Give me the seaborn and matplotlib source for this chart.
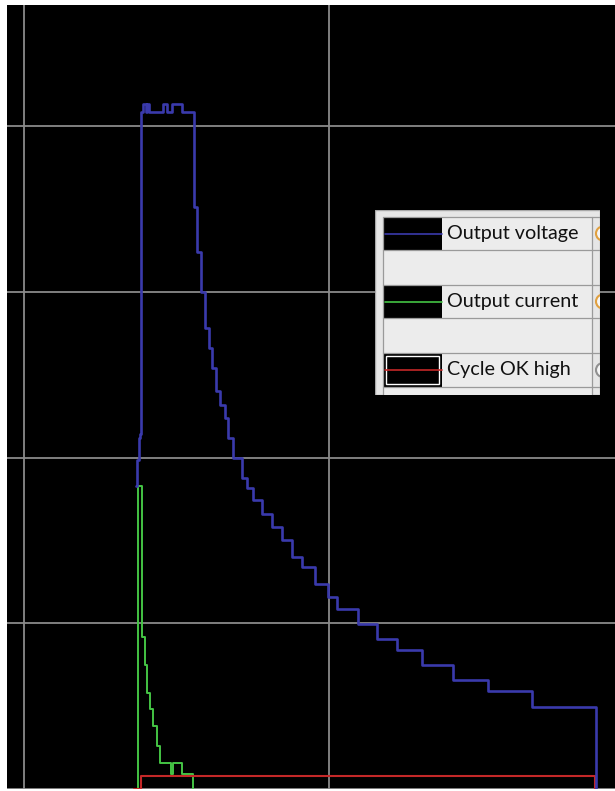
import matplotlib
matplotlib.use("Agg")
import matplotlib.pyplot as plt
import seaborn as sns
from matplotlib.patches import Rectangle, Circle

# Scope trace (time in ms, 10 ms / div; 10 units / div vertically)
volt_t = [3.67, 3.70, 3.77, 3.80, 3.84, 3.90, 4.00, 4.03, 4.10, 4.56, 4.69, 4.85, 5.18,
          5.57, 5.67, 5.80, 5.93, 6.07, 6.16, 6.30, 6.43, 6.59, 6.69, 6.85, 7.15, 7.31,
          7.51, 7.80, 8.13, 8.46, 8.79, 9.11, 9.54, 9.97, 10.26, 10.95, 11.57, 12.23,
          13.05, 14.07, 15.21, 16.66, 18.75]
volt_v = [18.32, 19.88, 21.20, 21.44, 40.90, 41.35, 40.90, 41.35, 40.90, 41.35, 40.90,
          41.35, 40.90, 35.14, 32.43, 30.03, 27.81, 26.61, 25.41, 24.02, 23.18, 22.40,
          21.20, 20.00, 18.80, 18.20, 17.42, 16.58, 15.80, 15.02, 13.99, 13.39, 12.37,
          11.59, 10.87, 9.97, 9.07, 8.41, 7.51, 6.61, 5.89, 4.98, 0.0]

curr_t = [3.60, 3.74, 3.87, 3.97, 4.03, 4.13, 4.23, 4.36, 4.46, 4.82, 4.89, 5.18, 5.54]
curr_v = [0.0, 18.32, 9.19, 7.51, 5.77, 4.80, 3.78, 2.58, 1.56, 0.90, 1.56, 0.90, 0.0]

ok_t = [3.60, 3.84, 18.72]
ok_v = [0.0, 0.80, 0.0]

labels = ["Output voltage", "Output current", "Cycle OK high"]
colors = ["#3a3aac", "#44c444", "#c42828"]

sns.set_style("dark", {"axes.facecolor": "black", "grid.color": "#8a8a8a"})
plt.rcParams["font.family"] = ["Lato", "DejaVu Sans"]

W, H = 615, 791
fig = plt.figure(figsize=(W / 100, H / 100), dpi=100, facecolor="white")
ax = fig.add_axes([7 / W, 2 / H, (W - 7) / W, 784 / H])

# Draw traces
sns.lineplot(x=curr_t, y=curr_v, ax=ax, color=colors[1], linewidth=1.4,
             drawstyle="steps-post", sort=False, estimator=None)
sns.lineplot(x=ok_t, y=ok_v, ax=ax, color=colors[2], linewidth=1.5,
             drawstyle="steps-post", sort=False, estimator=None)
sns.lineplot(x=volt_t, y=volt_v, ax=ax, color=colors[0], linewidth=1.9,
             drawstyle="steps-post", sort=False, estimator=None)

ax.set_xlim(-0.557, 19.377)
ax.set_ylim(0.24, 47.33)
ax.set_xticks([0, 10])
ax.set_yticks([0, 10, 20, 30, 40])
ax.grid(True, color="#8a8a8a", linewidth=1.3)
ax.tick_params(length=0, labelbottom=False, labelleft=False)
ax.set_xlabel("")
ax.set_ylabel("")
for s in ax.spines.values():
    s.set_visible(False)

# Legend panel, drawn in pixel coordinates of its own axes
lg = fig.add_axes([375 / W, (H - 395) / H, 225 / W, 185 / H])
lg.set_xlim(375, 600)
lg.set_ylim(395, 210)
lg.set_axis_off()
lg.add_patch(Rectangle((375, 210), 225, 185, facecolor="#e6e6e6", edgecolor="#a8a8a8", lw=1))
lg.add_patch(Rectangle((383, 217), 209, 178, facecolor="#ececec", edgecolor="none"))
for yy in [217, 250, 285, 318, 353, 387]:
    lg.plot([383, 600], [yy, yy], color="#9a9a9a", lw=0.9)
for xx in [383, 592]:
    lg.plot([xx, xx], [217, 395], color="#9a9a9a", lw=0.9)

rows = [(217, 250), (285, 318), (353, 387)]
circ = ["#e0a040", "#e0a040", "#909090"]
for (y0, y1), lab, c, cc in zip(rows, labels, colors, circ):
    lg.add_patch(Rectangle((383, y0), 59, y1 - y0, facecolor="black", edgecolor="none"))
    ym = (y0 + y1) / 2
    lg.plot([385, 442], [ym, ym], color=c, lw=1.2)
    lg.text(447, ym, lab, fontsize=14.2, color="#111111", va="center", ha="left")
    lg.add_patch(Circle((603, ym), 7, facecolor="#f4f4f4", edgecolor=cc, lw=1.5))

# white inner frame on the last swatch
lg.add_patch(Rectangle((386, 356), 53, 28, facecolor="none", edgecolor="white", lw=1))

fig.savefig("out.png", dpi=100, facecolor="white")
